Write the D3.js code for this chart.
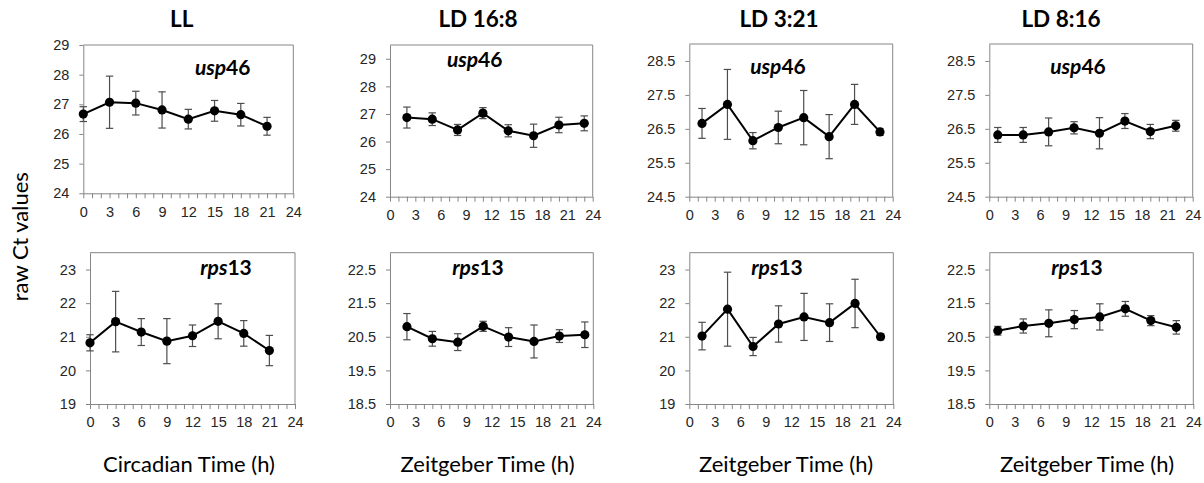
<!DOCTYPE html>
<html>
<head>
<meta charset="utf-8">
<script src="https://cdn.jsdelivr.net/npm/d3@7"></script>
<style>
  body { margin: 0; background: #fff; }
  svg { display: block; font-family: Lato, "Open Sans", sans-serif; }
  .tick text { fill: #262626; font-size: 14.5px; }
  .domain, .tick line { stroke: #868686; }
</style>
</head>
<body>
<svg id="chart" width="1204" height="483"></svg>
<script>
// sampling times (h) for each light regime
var conditions = ["LL", "LD 16:8", "LD 3:21", "LD 8:16"];
var timeLL = [0, 3, 6, 9, 12, 15, 18, 21];
var time16_8 = [2, 5, 8, 11, 14, 17, 20, 23];
var time3_21 = [1.5, 4.5, 7.5, 10.5, 13.5, 16.5, 19.5, 22.5];
var time8_16 = [1, 4, 7, 10, 13, 16, 19, 22];
var xTicks = [0, 3, 6, 9, 12, 15, 18, 21, 24];

// usp46 raw Ct: mean and SD
var usp46LL = [26.67, 27.07, 27.04, 26.81, 26.50, 26.78, 26.65, 26.26];
var usp46LLsd = [0.25, 0.88, 0.40, 0.61, 0.33, 0.35, 0.38, 0.30];
var usp46LD16 = [26.87, 26.81, 26.42, 27.03, 26.39, 26.21, 26.60, 26.66];
var usp46LD16sd = [0.38, 0.23, 0.20, 0.20, 0.22, 0.42, 0.28, 0.27];
var usp46LD3 = [26.66, 27.22, 26.15, 26.54, 26.83, 26.27, 27.22, 26.41];
var usp46LD3sd = [0.44, 1.03, 0.24, 0.48, 0.80, 0.65, 0.59, 0.10];
var usp46LD8 = [26.32, 26.32, 26.41, 26.53, 26.37, 26.73, 26.42, 26.59];
var usp46LD8sd = [0.22, 0.22, 0.41, 0.18, 0.46, 0.22, 0.21, 0.16];

// rps13 raw Ct: mean and SD
var rps13LL = [20.82, 21.45, 21.14, 20.87, 21.03, 21.46, 21.10, 20.59];
var rps13LLsd = [0.24, 0.90, 0.40, 0.67, 0.32, 0.52, 0.38, 0.45];
var rps13LD16 = [20.80, 20.44, 20.34, 20.81, 20.49, 20.36, 20.52, 20.56];
var rps13LD16sd = [0.39, 0.22, 0.25, 0.15, 0.28, 0.49, 0.19, 0.38];
var rps13LD3 = [21.02, 21.82, 20.71, 21.38, 21.59, 21.42, 21.99, 21.00];
var rps13LD3sd = [0.41, 1.10, 0.27, 0.54, 0.70, 0.56, 0.72, 0.09];
var rps13LD8 = [20.68, 20.82, 20.90, 21.01, 21.09, 21.33, 20.98, 20.78];
var rps13LD8sd = [0.13, 0.21, 0.40, 0.27, 0.39, 0.22, 0.15, 0.20];

// y tick values per panel
var yTicksUsp46 = [24, 25, 26, 27, 28, 29];
var yTicksUsp46Half = [24.5, 25.5, 26.5, 27.5, 28.5];
var yTicksRps13 = [19, 20, 21, 22, 23];
var yTicksRps13Half = [18.5, 19.5, 20.5, 21.5, 22.5];

var svg = d3.select("#chart");

// box = [left, right, top, bottom] of each plot area, lab = gene label position
var panels = [
  {gene: "usp", num: "46", t: timeLL, m: usp46LL, sd: usp46LLsd, ticks: yTicksUsp46, dom: [24, 29],
   box: [83.3, 293.3, 45, 193.3], lab: [222.7, 75]},
  {gene: "usp", num: "46", t: time16_8, m: usp46LD16, sd: usp46LD16sd, ticks: yTicksUsp46, dom: [24, 29.5],
   box: [390, 592.7, 45, 196.7], lab: [474.7, 67]},
  {gene: "usp", num: "46", t: time3_21, m: usp46LD3, sd: usp46LD3sd, ticks: yTicksUsp46Half, dom: [24.5, 29],
   box: [689.3, 892.7, 44, 196.7], lab: [778, 74]},
  {gene: "usp", num: "46", t: time8_16, m: usp46LD8, sd: usp46LD8sd, ticks: yTicksUsp46Half, dom: [24.5, 29],
   box: [989.3, 1192.7, 44, 196.7], lab: [1078, 74]},
  {gene: "rps", num: "13", t: timeLL, m: rps13LL, sd: rps13LLsd, ticks: yTicksRps13, dom: [19, 23.5],
   box: [90, 295, 252.7, 404], lab: [226, 275]},
  {gene: "rps", num: "13", t: time16_8, m: rps13LD16, sd: rps13LD16sd, ticks: yTicksRps13Half, dom: [18.5, 23],
   box: [390, 593.3, 252.7, 404], lab: [478, 275]},
  {gene: "rps", num: "13", t: time3_21, m: rps13LD3, sd: rps13LD3sd, ticks: yTicksRps13, dom: [19, 23.5],
   box: [689.3, 893.3, 252.7, 404], lab: [777, 275]},
  {gene: "rps", num: "13", t: time8_16, m: rps13LD8, sd: rps13LD8sd, ticks: yTicksRps13Half, dom: [18.5, 23],
   box: [989.3, 1193.3, 252.7, 404], lab: [1077, 275]}
];

panels.forEach(function(p) {
  var x = d3.scaleLinear().domain([0, 24]).range([p.box[0], p.box[1]]);
  var y = d3.scaleLinear().domain(p.dom).range([p.box[3], p.box[2]]);
  var g = svg.append("g");

  // top and right frame of the plot area
  g.append("path")
    .attr("d", "M" + x(0) + "," + y(p.dom[1]) + "H" + x(24) + "V" + y(p.dom[0]))
    .attr("fill", "none")
    .attr("stroke", "#868686");

  g.append("g")
    .attr("transform", "translate(0," + y(p.dom[0]) + ")")
    .call(d3.axisBottom(x)
      .tickValues(d3.range(0, 25, 1))
      .tickFormat(function(d) { return xTicks.indexOf(d) >= 0 ? d : ""; })
      .tickSize(5).tickSizeOuter(0).tickPadding(8));

  g.append("g")
    .attr("transform", "translate(" + x(0) + ",0)")
    .call(d3.axisLeft(y)
      .tickValues(p.ticks)
      .tickFormat(function(d) { return d % 1 ? d.toFixed(1) : d; })
      .tickSize(4).tickSizeOuter(0).tickPadding(10));

  var pts = p.t.map(function(t, i) { return {t: t, m: p.m[i], sd: p.sd[i]}; });

  // error bars
  var eb = g.append("g").attr("stroke", "#4d4d4d").attr("stroke-width", 1.2);
  pts.forEach(function(d) {
    var cx = x(d.t), y0 = y(d.m - d.sd), y1 = y(d.m + d.sd);
    eb.append("line").attr("x1", cx).attr("x2", cx).attr("y1", y0).attr("y2", y1);
    eb.append("line").attr("x1", cx - 3.7).attr("x2", cx + 3.7).attr("y1", y0).attr("y2", y0);
    eb.append("line").attr("x1", cx - 3.7).attr("x2", cx + 3.7).attr("y1", y1).attr("y2", y1);
  });

  g.append("path")
    .datum(pts)
    .attr("fill", "none")
    .attr("stroke", "#000")
    .attr("stroke-width", 2)
    .attr("d", d3.line().x(function(d) { return x(d.t); }).y(function(d) { return y(d.m); }));

  g.selectAll("circle").data(pts).enter().append("circle")
    .attr("cx", function(d) { return x(d.t); })
    .attr("cy", function(d) { return y(d.m); })
    .attr("r", 4.6)
    .attr("fill", "#000");

  var lab = g.append("text")
    .attr("x", p.lab[0]).attr("y", p.lab[1])
    .attr("text-anchor", "middle")
    .attr("font-size", 21)
    .attr("font-weight", "bold");
  lab.append("tspan").attr("font-style", "italic").text(p.gene);
  lab.append("tspan").text(p.num);
});

// column titles
var titleX = [181.7, 478, 779, 1061];
svg.selectAll(".title").data(conditions).enter().append("text")
  .attr("class", "title")
  .attr("x", function(d, i) { return titleX[i]; })
  .attr("y", 27)
  .attr("text-anchor", "middle")
  .attr("font-size", 22.5)
  .attr("font-weight", "bold")
  .text(function(d) { return d; });

// x axis titles
var xTitles = ["Circadian Time (h)", "Zeitgeber Time (h)", "Zeitgeber Time (h)", "Zeitgeber Time (h)"];
var xTitleX = [189, 487.6, 786, 1087];
svg.selectAll(".xtitle").data(xTitles).enter().append("text")
  .attr("class", "xtitle")
  .attr("x", function(d, i) { return xTitleX[i]; })
  .attr("y", 472)
  .attr("text-anchor", "middle")
  .attr("font-size", 22)
  .text(function(d) { return d; });

svg.append("text")
  .attr("transform", "translate(28,236.7) rotate(-90)")
  .attr("text-anchor", "middle")
  .attr("font-size", 22)
  .text("raw Ct values");
</script>
</body>
</html>
